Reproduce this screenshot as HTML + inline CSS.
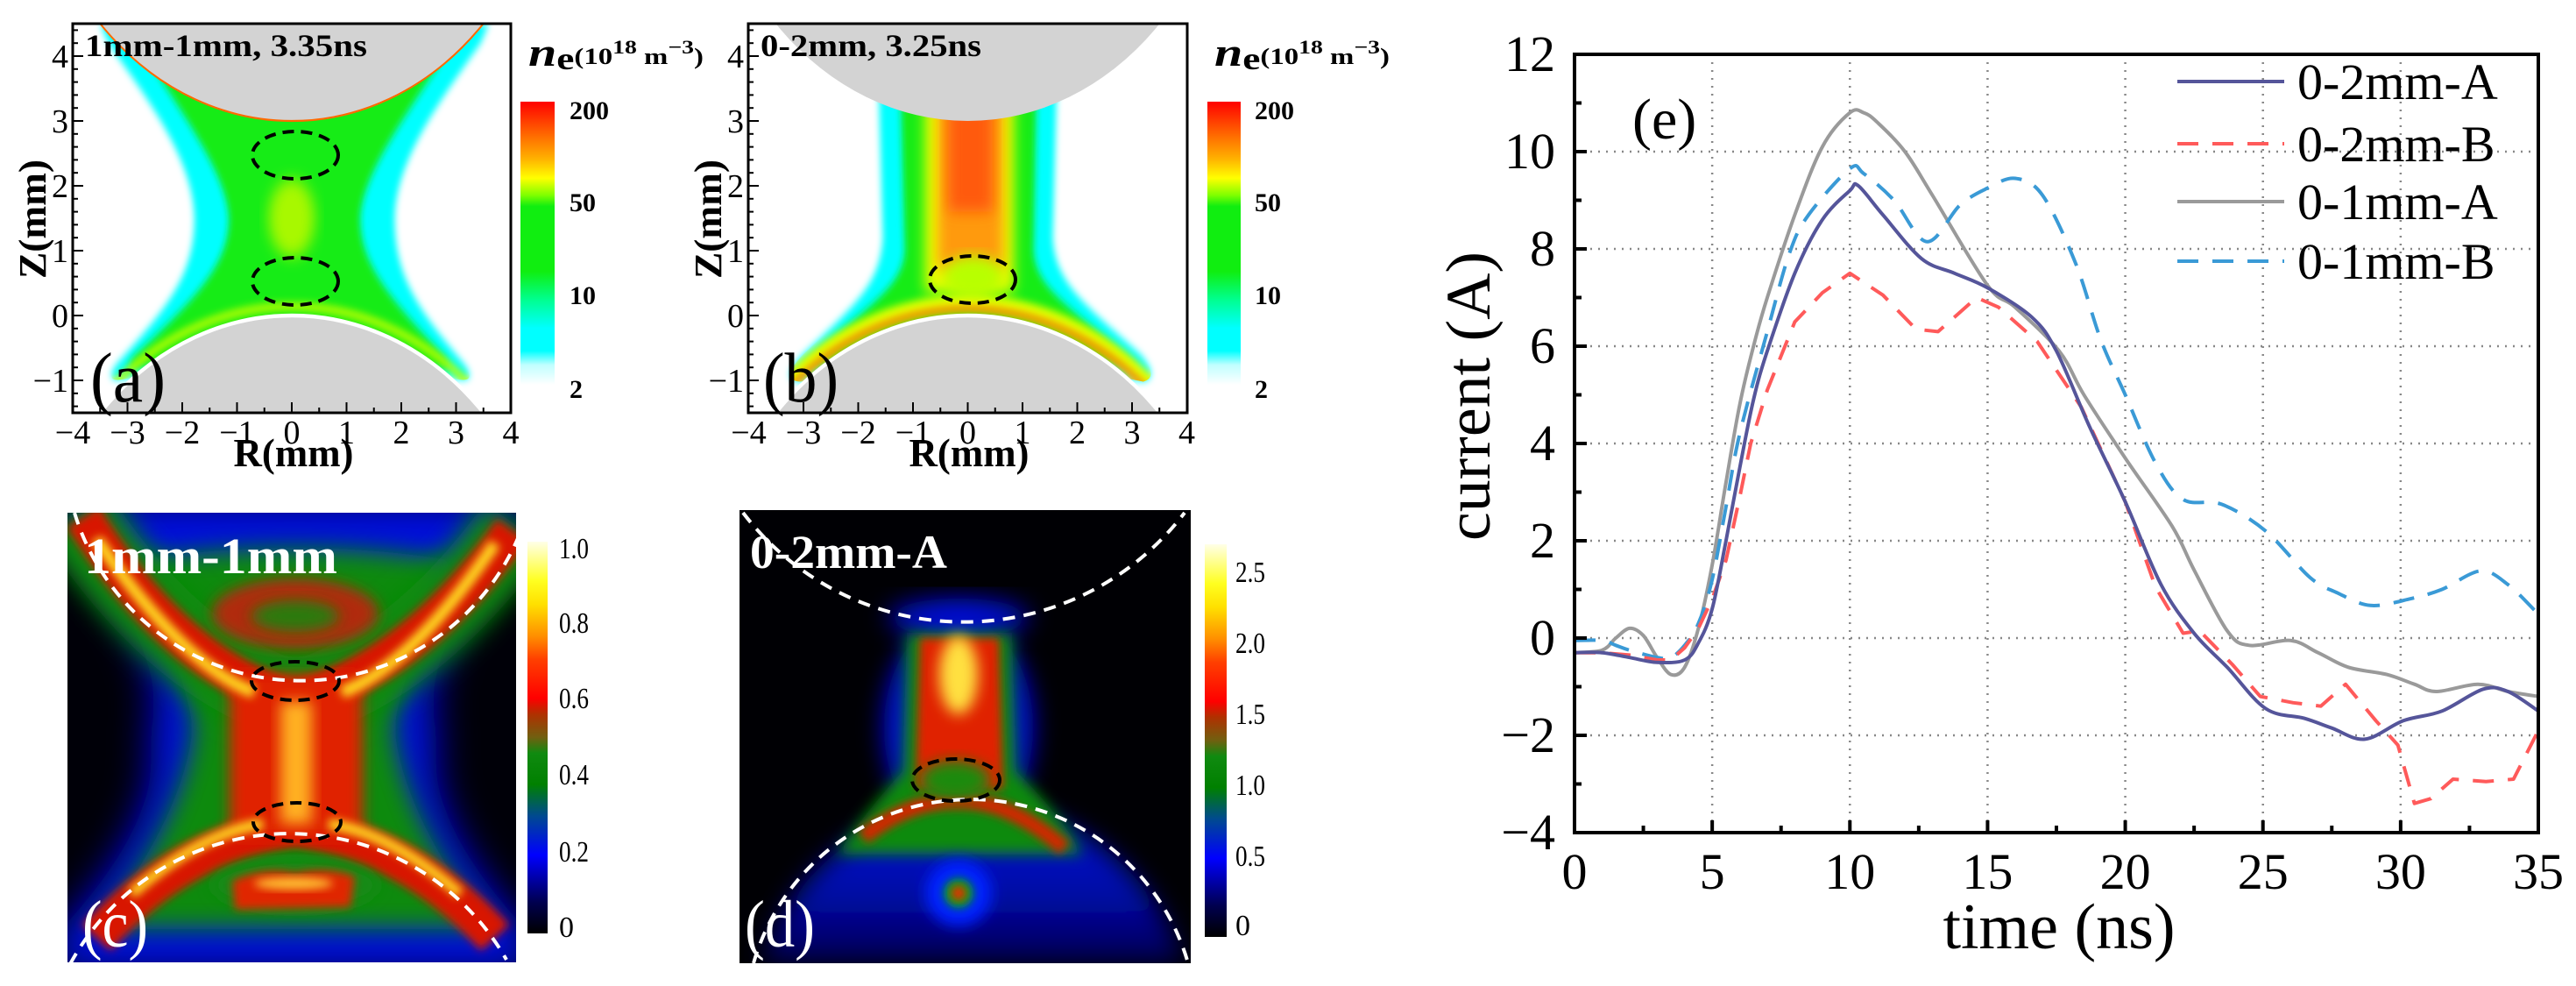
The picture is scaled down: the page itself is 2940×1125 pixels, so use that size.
<!DOCTYPE html>
<html><head><meta charset="utf-8"><style>
html,body{margin:0;padding:0;background:#fff;}
svg{display:block;}
svg text{font-family:"Liberation Serif","Times New Roman",serif;}
</style></head><body>
<svg id="fig" width="2940" height="1125" viewBox="0 0 2940 1125" xmlns="http://www.w3.org/2000/svg" font-family="Liberation Serif, serif">
<defs>
  <linearGradient id="cbSim" x1="0" y1="0" x2="0" y2="1">
    <stop offset="0" stop-color="#ff0000"/><stop offset="0.1" stop-color="#ff5a00"/>
    <stop offset="0.2" stop-color="#ffb000"/><stop offset="0.27" stop-color="#ffff00"/>
    <stop offset="0.33" stop-color="#80ff00"/><stop offset="0.37" stop-color="#10ee10"/>
    <stop offset="0.6" stop-color="#10ee10"/><stop offset="0.7" stop-color="#00ff90"/>
    <stop offset="0.8" stop-color="#00ffff"/><stop offset="0.88" stop-color="#00ffff"/>
    <stop offset="0.93" stop-color="#c0ffff"/><stop offset="1" stop-color="#ffffff"/>
  </linearGradient>
  <linearGradient id="cbExp" x1="0" y1="1" x2="0" y2="0">
    <stop offset="0" stop-color="#000000"/><stop offset="0.08" stop-color="#000050"/>
    <stop offset="0.2" stop-color="#0000ff"/><stop offset="0.3" stop-color="#004a90"/>
    <stop offset="0.38" stop-color="#008000"/><stop offset="0.46" stop-color="#108a10"/>
    <stop offset="0.5" stop-color="#706010"/><stop offset="0.56" stop-color="#b03000"/>
    <stop offset="0.6" stop-color="#ff0000"/><stop offset="0.7" stop-color="#ff4000"/>
    <stop offset="0.76" stop-color="#ff9000"/><stop offset="0.84" stop-color="#ffe000"/>
    <stop offset="0.9" stop-color="#ffff20"/><stop offset="1" stop-color="#ffffe8"/>
  </linearGradient>
  <linearGradient id="dBot" x1="0" y1="0" x2="0" y2="1">
    <stop offset="0" stop-color="#0018e0"/><stop offset="0.6" stop-color="#0008a0"/><stop offset="1" stop-color="#000050"/>
  </linearGradient>
  <filter id="bS" x="-20%" y="-20%" width="140%" height="140%"><feGaussianBlur stdDeviation="0.06"/></filter>
  <filter id="bM" x="-20%" y="-20%" width="140%" height="140%"><feGaussianBlur stdDeviation="0.12"/></filter>
  <filter id="p5" x="-30%" y="-30%" width="160%" height="160%"><feGaussianBlur stdDeviation="5"/></filter>
  <filter id="p8" x="-30%" y="-30%" width="160%" height="160%"><feGaussianBlur stdDeviation="8"/></filter>
  <filter id="p14" x="-30%" y="-30%" width="160%" height="160%"><feGaussianBlur stdDeviation="14"/></filter>
  <filter id="p22" x="-30%" y="-30%" width="160%" height="160%"><feGaussianBlur stdDeviation="22"/></filter>
  <clipPath id="clipA"><rect x="-4" y="-1.5" width="8" height="6"/></clipPath>
  <clipPath id="clipC"><rect x="77" y="585" width="512" height="513"/></clipPath>
  <clipPath id="clipD"><rect x="844" y="582" width="515" height="517"/></clipPath>
  <clipPath id="outA"><path d="M -3.5 4.5 L -3.35 4.2 C -2.6 3.3, -1.8 2.4, -1.78 1.5 C -1.78 0.6, -2.3 0.1, -3.2 -0.75 Q -3.45 -1.05 -3.05 -0.98 L 0 -0.5 L 3.0 -0.98 Q 3.4 -1.05 3.15 -0.75 C 2.3 0.1, 1.88 0.6, 1.88 1.5 C 1.9 2.4, 2.7 3.3, 3.45 4.2 L 3.6 4.5 Z"/></clipPath>
  <clipPath id="outB"><path d="M -1.62 3.4 L -1.55 1.2 C -1.6 0.5, -2.0 0.2, -3.0 -0.6 Q -3.45 -1.0 -3.05 -1.02 L 0 -0.5 L 3.2 -1.02 Q 3.5 -0.95 3.15 -0.6 C 2.1 0.2, 1.6 0.5, 1.55 1.2 L 1.62 3.4 Z"/></clipPath>
</defs>

<!-- ===================== Panel (a) ===================== -->
<g>
  <g transform="translate(333,360) scale(62.5,-74)">
    <g clip-path="url(#clipA)">
      <path fill="#00ffff" filter="url(#bS)" d="M -3.5 4.5 L -3.35 4.2 C -2.6 3.3, -1.8 2.4, -1.78 1.5 C -1.78 0.6, -2.3 0.1, -3.2 -0.75 Q -3.45 -1.05 -3.05 -0.98 L 0 -0.5 L 3.0 -0.98 Q 3.4 -1.05 3.15 -0.75 C 2.3 0.1, 1.88 0.6, 1.88 1.5 C 1.9 2.4, 2.7 3.3, 3.45 4.2 L 3.6 4.5 Z"/>
      <path fill="#12ec12" filter="url(#bS)" d="M -3.0 4.5 C -2.2 3.3, -1.2 2.3, -1.15 1.5 C -1.15 0.8, -1.7 0.3, -2.9 -0.65 L -3.0 -0.85 L 0 -0.3 L 2.9 -0.85 L 2.8 -0.65 C 1.75 0.3, 1.25 0.8, 1.25 1.5 C 1.3 2.3, 2.3 3.3, 3.15 4.5 Z"/>
      <ellipse cx="0" cy="1.5" rx="0.42" ry="0.6" fill="#a8f800" filter="url(#bM)"/>
      <g clip-path="url(#outA)">
        <circle cx="0" cy="-4.83" r="4.97" fill="none" stroke="#b8ff00" stroke-width="0.12" filter="url(#bS)"/>
      </g>
      <circle cx="0" cy="7.83" r="4.83" fill="#d3d3d3" stroke="#ff6a00" stroke-width="0.03"/>
      <circle cx="0" cy="-4.83" r="4.83" fill="#d3d3d3" stroke="#ffffff" stroke-width="0.06"/>
    </g>
  </g>
  <ellipse cx="337" cy="177" rx="49" ry="27" fill="none" stroke="#000" stroke-width="4" stroke-dasharray="13 8"/>
  <ellipse cx="337" cy="321" rx="49" ry="27" fill="none" stroke="#000" stroke-width="4" stroke-dasharray="13 8"/>
  <rect x="83" y="27" width="500" height="444" fill="none" stroke="#000" stroke-width="3"/>
  <g id="ticksA"></g>
  <text x="97" y="64" font-size="36" font-weight="bold" textLength="322" lengthAdjust="spacingAndGlyphs">1mm-1mm, 3.35ns</text>
  <text x="103" y="458" font-size="80" textLength="86" lengthAdjust="spacingAndGlyphs">(a)</text>
  <text transform="translate(52,250) rotate(-90)" text-anchor="middle" font-size="44" font-weight="bold" textLength="136" lengthAdjust="spacingAndGlyphs">Z(mm)</text>
  <text x="335" y="532" text-anchor="middle" font-size="46" font-weight="bold" textLength="137" lengthAdjust="spacingAndGlyphs">R(mm)</text>
  <rect x="594" y="116" width="39" height="323" fill="url(#cbSim)"/>
  <text x="603" y="75" font-weight="bold" textLength="200" lengthAdjust="spacingAndGlyphs"><tspan font-size="46" font-style="italic">n</tspan><tspan font-size="36" dy="4">e</tspan><tspan font-size="26" dy="-6">(10</tspan><tspan font-size="22" dy="-12">18</tspan><tspan font-size="26" dy="12"> m</tspan><tspan font-size="22" dy="-12">−3</tspan><tspan font-size="26" dy="12">)</tspan></text>
  <g font-size="30" font-weight="bold">
    <text x="650" y="136">200</text><text x="650" y="241">50</text><text x="650" y="347">10</text><text x="650" y="454">2</text>
  </g>
</g>

<!-- ===================== Panel (b) ===================== -->
<g>
  <g transform="translate(1104.5,360) scale(62.6,-74)">
    <g clip-path="url(#clipA)">
      <path fill="#00ffff" filter="url(#bS)" d="M -1.62 3.4 L -1.55 1.2 C -1.6 0.5, -2.0 0.2, -3.0 -0.6 Q -3.45 -1.0 -3.05 -1.02 L 0 -0.5 L 3.2 -1.02 Q 3.5 -0.95 3.15 -0.6 C 2.1 0.2, 1.6 0.5, 1.55 1.2 L 1.62 3.4 Z"/>
      <path fill="#12ec12" filter="url(#bS)" d="M -1.22 3.4 L -1.15 1.0 C -1.2 0.4, -1.8 0.2, -3.0 -0.8 L 0 -0.3 L 3.1 -0.8 C 1.8 0.2, 1.25 0.4, 1.2 1.0 L 1.25 3.4 Z"/>
      <rect x="-0.78" y="0.35" width="1.62" height="3.1" fill="#f0ff00" filter="url(#bM)"/>
      <rect x="-0.55" y="0.7" width="1.2" height="2.8" fill="#ff9a10" filter="url(#bM)"/>
      <rect x="-0.35" y="1.6" width="0.8" height="1.8" fill="#ff5a10" filter="url(#bM)"/>
      <ellipse cx="0.1" cy="0.6" rx="0.55" ry="0.32" fill="#b8ff00" filter="url(#bM)"/>
      <g clip-path="url(#outB)">
        <circle cx="0" cy="-4.83" r="5.02" fill="none" stroke="#e0ff00" stroke-width="0.26" filter="url(#bS)"/>
        <circle cx="0" cy="-4.83" r="4.93" fill="none" stroke="#ff8000" stroke-width="0.1" filter="url(#bS)"/>
      </g>
      <circle cx="0" cy="7.83" r="4.83" fill="#d3d3d3"/>
      <circle cx="0" cy="-4.83" r="4.83" fill="#d3d3d3" stroke="#ffffff" stroke-width="0.06"/>
    </g>
  </g>
  <ellipse cx="1110" cy="319" rx="49" ry="27" fill="none" stroke="#000" stroke-width="4" stroke-dasharray="13 8"/>
  <rect x="854" y="27" width="501" height="444" fill="none" stroke="#000" stroke-width="3"/>
  <g id="ticksB"></g>
  <text x="868" y="64" font-size="36" font-weight="bold" textLength="252" lengthAdjust="spacingAndGlyphs">0-2mm, 3.25ns</text>
  <text x="871" y="458" font-size="80" textLength="86" lengthAdjust="spacingAndGlyphs">(b)</text>
  <text transform="translate(823,250) rotate(-90)" text-anchor="middle" font-size="44" font-weight="bold" textLength="136" lengthAdjust="spacingAndGlyphs">Z(mm)</text>
  <text x="1106" y="532" text-anchor="middle" font-size="46" font-weight="bold" textLength="137" lengthAdjust="spacingAndGlyphs">R(mm)</text>
  <rect x="1378" y="116" width="38" height="323" fill="url(#cbSim)"/>
  <text x="1386" y="75" font-weight="bold" textLength="200" lengthAdjust="spacingAndGlyphs"><tspan font-size="46" font-style="italic">n</tspan><tspan font-size="36" dy="4">e</tspan><tspan font-size="26" dy="-6">(10</tspan><tspan font-size="22" dy="-12">18</tspan><tspan font-size="26" dy="12"> m</tspan><tspan font-size="22" dy="-12">−3</tspan><tspan font-size="26" dy="12">)</tspan></text>
  <g font-size="30" font-weight="bold">
    <text x="1432" y="136">200</text><text x="1432" y="241">50</text><text x="1432" y="347">10</text><text x="1432" y="454">2</text>
  </g>
</g>

<!-- ===================== Panel (c) ===================== -->
<g>
  <g clip-path="url(#clipC)">
    <rect x="77" y="585" width="512" height="513" fill="#000008"/>
    <path fill="#0008e0" filter="url(#p22)" d="M 60 570 L 610 570 L 590 600 Q 470 760 500 840 Q 480 930 600 1060 L 610 1110 L 60 1110 L 70 1060 Q 190 930 170 840 Q 200 760 80 600 Z"/>
    <path fill="#0a8a0a" filter="url(#p14)" d="M 150 640 Q 337 610 520 640 Q 460 760 450 830 Q 460 930 560 1060 L 110 1060 Q 210 930 220 830 Q 210 760 150 640 Z"/>
    <path fill="none" stroke="#0a8a0a" stroke-width="90" filter="url(#p14)" d="M 85 585 Q 200 760 337 800 Q 474 760 590 600"/>
    <path fill="none" stroke="#d81800" stroke-width="44" filter="url(#p5)" d="M 95 590 Q 200 760 337 800 Q 474 760 585 605"/>
    <path fill="none" stroke="#d81800" stroke-width="44" filter="url(#p5)" d="M 110 1070 Q 210 960 337 945 Q 464 960 565 1070"/>
    <rect x="262" y="770" width="152" height="185" fill="#e02000" filter="url(#p8)"/>
    <ellipse cx="337" cy="700" rx="95" ry="40" fill="#b02a08" filter="url(#p8)"/>
    <ellipse cx="337" cy="703" rx="50" ry="18" fill="#2a7a10" filter="url(#p8)"/>
    <path fill="none" stroke="#ffd820" stroke-width="14" filter="url(#p5)" d="M 110 615 Q 210 760 290 790"/>
    <path fill="none" stroke="#ffd820" stroke-width="14" filter="url(#p5)" d="M 565 620 Q 470 760 390 790"/>
    <path fill="none" stroke="#ffd820" stroke-width="12" filter="url(#p5)" d="M 150 1020 Q 230 950 300 940"/>
    <path fill="none" stroke="#ffd820" stroke-width="12" filter="url(#p5)" d="M 525 1020 Q 445 950 375 940"/>
    <rect x="320" y="800" width="36" height="140" fill="#ffb020" filter="url(#p8)"/>
    <ellipse cx="337" cy="1010" rx="95" ry="30" fill="#138a13" filter="url(#p8)"/>
    <path fill="#e02800" filter="url(#p5)" d="M 265 1005 Q 300 988 337 996 Q 375 988 405 1000 L 400 1035 L 268 1038 Z"/>
    <ellipse cx="335" cy="1008" rx="45" ry="7" fill="#ffc030" filter="url(#p5)"/>
    <path fill="none" stroke="#fff" stroke-width="4" stroke-dasharray="14 10" d="M 85 585 A 270 270 0 0 0 592 612"/>
    <path fill="none" stroke="#fff" stroke-width="4" stroke-dasharray="14 10" d="M 80 1100 A 285 285 0 0 1 578 1095"/>
  </g>
  <ellipse cx="337" cy="777" rx="50" ry="22" fill="none" stroke="#000" stroke-width="4" stroke-dasharray="13 8"/>
  <ellipse cx="339" cy="938" rx="50" ry="22" fill="none" stroke="#000" stroke-width="4" stroke-dasharray="13 8"/>
  <text x="96" y="654" font-size="58" font-weight="bold" fill="#fff" textLength="289" lengthAdjust="spacingAndGlyphs">1mm-1mm</text>
  <text x="94" y="1080" font-size="76" fill="#fff" textLength="75" lengthAdjust="spacingAndGlyphs">(c)</text>
  <rect x="602" y="618" width="23" height="447" fill="url(#cbExp)"/>
  <g font-size="34">
    <text x="638" y="637" textLength="34" lengthAdjust="spacingAndGlyphs">1.0</text>
    <text x="638" y="722" textLength="34" lengthAdjust="spacingAndGlyphs">0.8</text>
    <text x="638" y="808" textLength="34" lengthAdjust="spacingAndGlyphs">0.6</text>
    <text x="638" y="895" textLength="34" lengthAdjust="spacingAndGlyphs">0.4</text>
    <text x="638" y="983" textLength="34" lengthAdjust="spacingAndGlyphs">0.2</text>
    <text x="638" y="1069">0</text>
  </g>
</g>

<!-- ===================== Panel (d) ===================== -->
<g>
  <g clip-path="url(#clipD)">
    <rect x="844" y="582" width="515" height="517" fill="#000004"/>
    <path fill="url(#dBot)" filter="url(#p14)" d="M 870 1099 A 250 250 0 0 1 1350 1099 Z"/>
    <ellipse cx="1094" cy="830" rx="85" ry="125" fill="#0010e0" filter="url(#p14)"/>
    <ellipse cx="1094" cy="705" rx="80" ry="22" fill="#0010d0" filter="url(#p14)"/>
    <path fill="#0a8a0a" filter="url(#p8)" d="M 1035 722 L 1155 722 L 1160 880 Q 1215 935 1235 975 L 955 975 Q 985 930 1030 880 Z"/>
    <path fill="#e02000" filter="url(#p5)" d="M 1050 728 L 1140 728 L 1145 900 L 1045 900 Z"/>
    <path fill="none" stroke="#d02800" stroke-width="18" filter="url(#p5)" d="M 985 955 Q 1040 912 1094 914 Q 1150 912 1215 968"/>
    <ellipse cx="1094" cy="770" rx="22" ry="45" fill="#ffe040" filter="url(#p8)"/>
    <ellipse cx="1090" cy="890" rx="40" ry="22" fill="#1a8a10" filter="url(#p8)"/>
    <circle cx="1094" cy="1019" r="38" fill="#0020ff" filter="url(#p8)"/>
    <circle cx="1094" cy="1019" r="17" fill="#10a010" filter="url(#p5)"/>
    <circle cx="1094" cy="1019" r="8" fill="#ff2000" filter="url(#p5)"/>
    <path fill="none" stroke="#fff" stroke-width="4" stroke-dasharray="14 10" d="M 848 585 A 317 317 0 0 0 1352 585"/>
    <path fill="none" stroke="#fff" stroke-width="4" stroke-dasharray="14 10" d="M 860 1099 A 258 258 0 0 1 1356 1099"/>
  </g>
  <ellipse cx="1091" cy="890" rx="50" ry="24" fill="none" stroke="#000" stroke-width="4" stroke-dasharray="13 8"/>
  <text x="856" y="648" font-size="54" font-weight="bold" fill="#fff" textLength="225" lengthAdjust="spacingAndGlyphs">0-2mm-A</text>
  <text x="850" y="1080" font-size="76" fill="#fff" textLength="80" lengthAdjust="spacingAndGlyphs">(d)</text>
  <rect x="1375" y="621" width="25" height="448" fill="url(#cbExp)"/>
  <g font-size="34">
    <text x="1410" y="664" textLength="34" lengthAdjust="spacingAndGlyphs">2.5</text>
    <text x="1410" y="745" textLength="34" lengthAdjust="spacingAndGlyphs">2.0</text>
    <text x="1410" y="826" textLength="34" lengthAdjust="spacingAndGlyphs">1.5</text>
    <text x="1410" y="907" textLength="34" lengthAdjust="spacingAndGlyphs">1.0</text>
    <text x="1410" y="988" textLength="34" lengthAdjust="spacingAndGlyphs">0.5</text>
    <text x="1410" y="1067">0</text>
  </g>
</g>

<!-- ===================== Panel (e) ===================== -->
<g id="panelE"></g>
</svg>

<script>
// ---- Panel (e) data ----
const t2A = [0,1,2,3,4,4.5,5,5.5,6,6.5,7,8,9,10,10.3,11.2,12.6,13.8,15,16.6,17.5,18.7,20,21.3,22.5,23.7,25.1,26.5,27.5,28.7,30.1,31.5,33,33.9,35];
const v2A = [-0.3,-0.3,-0.4,-0.5,-0.45,-0.1,0.6,2.0,3.5,4.9,5.9,7.5,8.6,9.2,9.3,8.7,7.8,7.5,7.2,6.6,5.9,4.35,2.8,1.1,0.1,-0.6,-1.45,-1.65,-1.85,-2.08,-1.7,-1.5,-1.05,-1.1,-1.5];
const t2B = [0,1,2,3,3.5,4,4.5,5,5.5,6,6.4,7,8,9,10,11.2,12.4,13.2,14.6,15.4,16.8,18.4,20,21.1,22.1,22.7,23.9,24.9,26.1,27.1,28,29.1,29.9,30.5,31.1,31.9,33.1,34.1,35];
const v2B = [-0.3,-0.3,-0.35,-0.45,-0.45,-0.2,0.2,0.8,1.6,2.9,4.0,5.1,6.5,7.1,7.5,7.05,6.35,6.3,7.0,6.8,6.1,4.75,2.8,1.05,0.1,0.15,-0.55,-1.2,-1.33,-1.4,-0.95,-1.7,-2.2,-3.4,-3.3,-2.9,-2.95,-2.9,-1.9];
const t1A = [0,1,1.5,2,2.5,3,3.5,4,4.5,5,5.5,6,6.5,7,8,9,10,10.5,11,12,13,15,16,17.6,18.5,20,21.7,22.5,23.7,24.5,26,27,28.1,29.5,30.5,31.3,32.8,33.9,35];
const v1A = [-0.3,-0.25,0,0.2,0.05,-0.4,-0.75,-0.6,0.2,1.5,3.2,4.8,6.0,7.0,8.7,10.1,10.8,10.8,10.6,10.0,9.1,7.25,6.8,5.9,5.0,3.7,2.3,1.4,0.15,-0.15,-0.05,-0.3,-0.6,-0.75,-0.95,-1.1,-0.95,-1.1,-1.2];
const t1B = [0,1,1.5,2,3,3.5,4,4.5,5,5.5,6,7,7.8,8.5,10,10.5,11.6,12.8,14,15,16,17,18.2,19.1,20,21.1,22.1,23.5,25.1,26.7,27.7,28.9,30.3,31.5,32.9,33.9,34.9];
const v1B = [-0.05,-0.05,-0.15,-0.25,-0.4,-0.4,-0.15,0.3,1.2,2.7,4.2,6.3,7.9,8.7,9.65,9.55,9.0,8.15,8.9,9.25,9.45,9.1,7.7,6.15,5.0,3.6,2.85,2.75,2.2,1.25,0.93,0.67,0.8,1.0,1.38,1.1,0.55];
const seriesNames = ["0-2mm-A","0-2mm-B","0-1mm-A","0-1mm-B"];
const xTicks = [0,5,10,15,20,25,30,35];
const yTicks = [-4,-2,0,2,4,6,8,10,12];

const NS = "http://www.w3.org/2000/svg";
const E = document.getElementById("panelE");
const PL = 1797, PR = 2897, PT = 62, PB = 950;
const X = t => PL + (t - 0) * (PR - PL) / 35;
const Y = v => PT + (12 - v) * (PB - PT) / 16;
function mk(tag, attrs, parent) {
  const el = document.createElementNS(NS, tag);
  for (const k in attrs) el.setAttribute(k, attrs[k]);
  (parent || E).appendChild(el);
  return el;
}
for (const t of xTicks) {
  if (t === 0 || t === 35) continue;
  const g = mk("line", {x1: X(t), x2: X(t), y1: PT, y2: PB, stroke: "#888", "stroke-width": 2.5, "stroke-dasharray": "2 7"});
  
  
}
for (const v of yTicks) {
  if (v === 12 || v === -4) continue;
  const g = mk("line", {x1: PL, x2: PR, y1: Y(v), y2: Y(v), stroke: "#888", "stroke-width": 2.5, "stroke-dasharray": "2 7"});
  
  
}
function smoothPath(pts) {
  let d = "M" + pts[0][0].toFixed(1) + "," + pts[0][1].toFixed(1);
  for (let i = 0; i < pts.length - 1; i++) {
    const p0 = pts[i - 1] || pts[i], p1 = pts[i], p2 = pts[i + 1], p3 = pts[i + 2] || p2;
    const c1x = p1[0] + (p2[0] - p0[0]) / 6, c1y = p1[1] + (p2[1] - p0[1]) / 6;
    const c2x = p2[0] - (p3[0] - p1[0]) / 6, c2y = p2[1] - (p3[1] - p1[1]) / 6;
    d += "C" + c1x.toFixed(1) + "," + c1y.toFixed(1) + " " + c2x.toFixed(1) + "," + c2y.toFixed(1) + " " + p2[0].toFixed(1) + "," + p2[1].toFixed(1);
  }
  return d;
}
function linePath(pts) { return "M" + pts.map(p => p[0].toFixed(1) + "," + p[1].toFixed(1)).join("L"); }
const defs = [
  {t: t1A, v: v1A, color: "#9a9a9a", dash: "", smooth: true, name: "series-0-1mm-A"},
  {t: t1B, v: v1B, color: "#3a9ad6", dash: "24 16", smooth: true, name: "series-0-1mm-B"},
  {t: t2B, v: v2B, color: "#ff5a5a", dash: "24 16", smooth: false, name: "series-0-2mm-B"},
  {t: t2A, v: v2A, color: "#55559a", dash: "", smooth: true, name: "series-0-2mm-A"}
];
for (const s of defs) {
  const pts = s.t.map((t, i) => [X(t), Y(s.v[i])]);
  const p = mk("path", {d: s.smooth ? smoothPath(pts) : linePath(pts), fill: "none", stroke: s.color, "stroke-width": 4, "stroke-dasharray": s.dash, "stroke-linejoin": "round"});
  
  
}
const fr = mk("rect", {x: PL, y: PT, width: PR - PL, height: PB - PT, fill: "none", stroke: "#000", "stroke-width": 4});


for (let t = 0; t <= 35; t += 2.5) {
  const major = (t % 5 === 0);
  const tk = mk("line", {x1: X(t), x2: X(t), y1: PB, y2: PB - (major ? 14 : 8), stroke: "#000", "stroke-width": 4});
  
  
}
for (const t of xTicks) {
  const tx = mk("text", {x: X(t), y: 1014, "text-anchor": "middle", "font-size": 58, "font-family": "Liberation Serif, serif"});
  tx.textContent = String(t);
  
  
}
for (let v = -4; v <= 12; v += 1) {
  const major = (v % 2 === 0);
  const tk = mk("line", {x1: PL, x2: PL + (major ? 14 : 8), y1: Y(v), y2: Y(v), stroke: "#000", "stroke-width": 4});
  
  
}
for (const v of yTicks) {
  const tx = mk("text", {x: 1775, y: Y(v) + 19, "text-anchor": "end", "font-size": 58, "font-family": "Liberation Serif, serif"});
  tx.textContent = v < 0 ? "\u2212" + Math.abs(v) : String(v);
  
  
}
const xt = mk("text", {x: 2350, y: 1082, "text-anchor": "middle", "font-size": 74, "font-family": "Liberation Serif, serif"});
xt.textContent = "time (ns)";


const yt = mk("text", {transform: "translate(1700,452) rotate(-90)", "text-anchor": "middle", "font-size": 72, textLength: 330, lengthAdjust: "spacingAndGlyphs", "font-family": "Liberation Serif, serif"});
yt.textContent = "current (A)";


const pe = mk("text", {x: 1863, y: 158, "font-size": 66, "font-family": "Liberation Serif, serif"});
pe.textContent = "(e)";


const legY = [93, 164, 230, 298];
const legStyle = [["#55559a",""],["#ff5a5a","24 16"],["#9a9a9a",""],["#3a9ad6","24 16"]];
seriesNames.forEach((n, i) => {
  const g = mk("g", {});
  
  
  mk("line", {x1: 2485, x2: 2607, y1: legY[i], y2: legY[i], stroke: legStyle[i][0], "stroke-width": 4, "stroke-dasharray": legStyle[i][1]}, g);
  const tx = mk("text", {x: 2622, y: legY[i] + 20, "font-size": 58, "font-family": "Liberation Serif, serif"}, g);
  tx.textContent = n;
});

function heatTicks(gid, left, r0) {
  const g = document.getElementById(gid);
  const sx = 62.5, zy = z => 360 - z * 74;
  for (let r = -4; r <= 4.001; r += 0.5) {
    const major = Math.abs(r - Math.round(r)) < 1e-6;
    mk("line", {x1: r0 + r * sx, x2: r0 + r * sx, y1: 471, y2: 471 - (major ? 12 : 6), stroke: "#000", "stroke-width": 2}, g);
  }
  for (let r = -4; r <= 4; r++) {
    const tx = mk("text", {x: r0 + r * sx, y: 506, "text-anchor": "middle", "font-size": 38, "font-family": "Liberation Serif, serif"}, g);
    tx.textContent = r < 0 ? "\u2212" + Math.abs(r) : String(r);
    
    
  }
  for (let z = -1.4; z <= 4.45; z += 0.2) {
    const major = Math.abs(z - Math.round(z)) < 1e-6;
    mk("line", {x1: left, x2: left + (major ? 12 : 6), y1: zy(z), y2: zy(z), stroke: "#000", "stroke-width": 2}, g);
  }
  for (let z = -1; z <= 4; z++) {
    const tx = mk("text", {x: left - 5, y: zy(z) + 13, "text-anchor": "end", "font-size": 38, "font-family": "Liberation Serif, serif"}, g);
    tx.textContent = z < 0 ? "\u2212" + Math.abs(z) : String(z);
    
    
  }
}
heatTicks("ticksA", 83, 333);
heatTicks("ticksB", 854, 1104.5);
</script>
</body></html>
